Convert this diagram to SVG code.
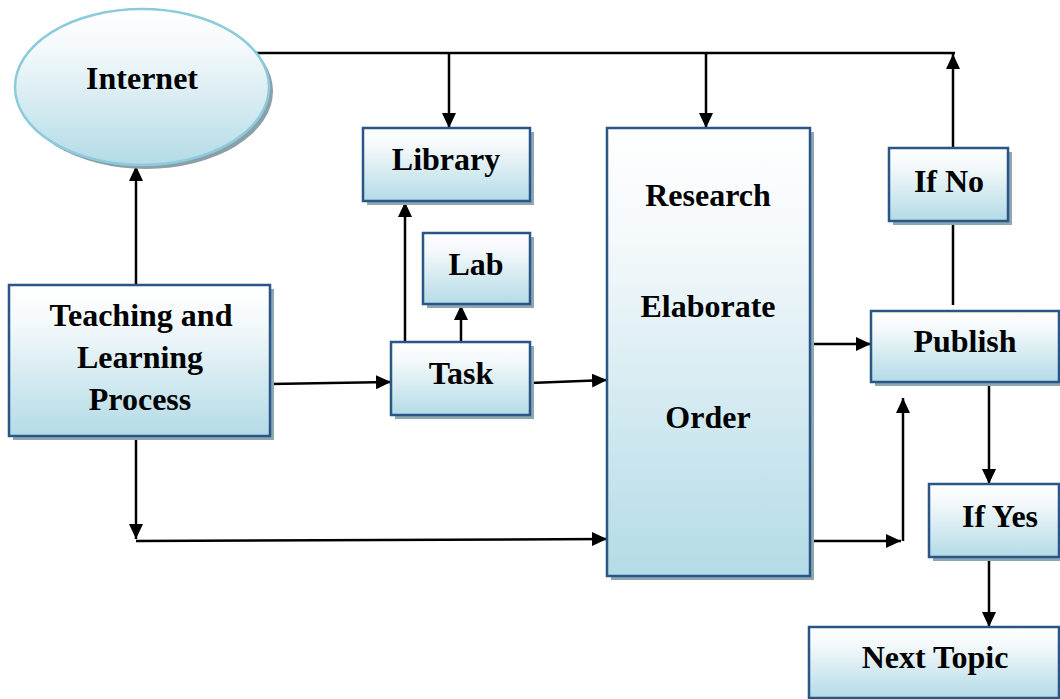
<svg xmlns="http://www.w3.org/2000/svg" width="1060" height="699" viewBox="0 0 1060 699">
<style>
.box{stroke:#2a5589;stroke-width:2.5;fill:url(#g)}
.sh{fill:#8fa8b0}
.t{font-family:"Liberation Serif","Times New Roman",serif;font-weight:bold;font-size:32px;fill:#000;text-anchor:middle}
.c{stroke:#000;stroke-width:2.5;fill:none}
.a{marker-end:url(#ah)}
</style>
<defs>
<linearGradient id="g" x1="0" y1="0" x2="0" y2="1">
<stop offset="0" stop-color="#ffffff"/>
<stop offset="0.25" stop-color="#f4f9fb"/>
<stop offset="1" stop-color="#b3dbe6"/>
</linearGradient>
<marker id="ah" markerUnits="userSpaceOnUse" markerWidth="16" markerHeight="14" refX="15" refY="7" orient="auto">
<path d="M0,0 L15,7 L0,14 z" fill="#000"/>
</marker>
</defs>
<rect width="1060" height="699" fill="#fff"/>
<g id="connectors">
<polyline class="c" points="256,53 955,53"/>
<line class="c a" x1="449" y1="53" x2="449" y2="128"/>
<line class="c a" x1="706" y1="53" x2="706" y2="128"/>
<line class="c a" x1="136" y1="285" x2="136" y2="166"/>
<line class="c a" x1="270" y1="384" x2="391" y2="382"/>
<line class="c a" x1="405" y1="342" x2="405" y2="202"/>
<line class="c a" x1="461" y1="342" x2="461" y2="305"/>
<line class="c a" x1="530" y1="383" x2="607" y2="380"/>
<line class="c a" x1="136" y1="436" x2="136" y2="539"/>
<line class="c a" x1="136" y1="541" x2="607" y2="539"/>
<line class="c a" x1="811" y1="344" x2="871" y2="344"/>
<line class="c a" x1="811" y1="541" x2="901" y2="541"/>
<line class="c a" x1="903" y1="541" x2="903" y2="398"/>
<line class="c" x1="953" y1="305" x2="953" y2="221"/>
<line class="c a" x1="953" y1="148" x2="953" y2="54"/>
<line class="c a" x1="989" y1="382" x2="989" y2="484"/>
<line class="c a" x1="989" y1="557" x2="989" y2="627"/>
</g>
<g id="internet">
<ellipse cx="146" cy="91" rx="127" ry="78" fill="#8c9fa8"/>
<ellipse cx="142" cy="87" rx="127" ry="78" fill="url(#g)" stroke="#8ccbdb" stroke-width="2.5"/>
<text class="t" x="142" y="89">Internet</text>
</g>
<g id="teaching">
<rect class="sh" x="13" y="289" width="261" height="151"/>
<rect class="box" x="9" y="285" width="261" height="151"/>
<text class="t" x="141" y="326">Teaching and</text>
<text class="t" x="140" y="368">Learning</text>
<text class="t" x="140" y="410">Process</text>
</g>
<g id="library">
<rect class="sh" x="367" y="132" width="167" height="73"/>
<rect class="box" x="363" y="128" width="167" height="73"/>
<text class="t" x="446" y="170">Library</text>
</g>
<g id="lab">
<rect class="sh" x="427" y="237" width="107" height="71"/>
<rect class="box" x="423" y="233" width="107" height="71"/>
<text class="t" x="476" y="275">Lab</text>
</g>
<g id="task">
<rect class="sh" x="395" y="346" width="139" height="73"/>
<rect class="box" x="391" y="342" width="139" height="73"/>
<text class="t" x="461" y="384">Task</text>
</g>
<g id="research">
<rect class="sh" x="611" y="132" width="203" height="448"/>
<rect class="box" x="607" y="128" width="203" height="448"/>
<text class="t" x="708" y="206">Research</text>
<text class="t" x="708" y="317">Elaborate</text>
<text class="t" x="708" y="428">Order</text>
</g>
<g id="ifno">
<rect class="sh" x="893" y="152" width="119" height="73"/>
<rect class="box" x="889" y="148" width="119" height="73"/>
<text class="t" x="949" y="192">If No</text>
</g>
<g id="publish">
<rect class="sh" x="875" y="315" width="188" height="71"/>
<rect class="box" x="871" y="311" width="188" height="71"/>
<text class="t" x="965" y="352">Publish</text>
</g>
<g id="ifyes">
<rect class="sh" x="933" y="488" width="130" height="73"/>
<rect class="box" x="929" y="484" width="130" height="73"/>
<text class="t" x="1000" y="527">If Yes</text>
</g>
<g id="nexttopic">
<rect class="sh" x="813" y="631" width="250" height="71"/>
<rect class="box" x="809" y="627" width="250" height="71"/>
<text class="t" x="935" y="668">Next Topic</text>
</g>
</svg>
